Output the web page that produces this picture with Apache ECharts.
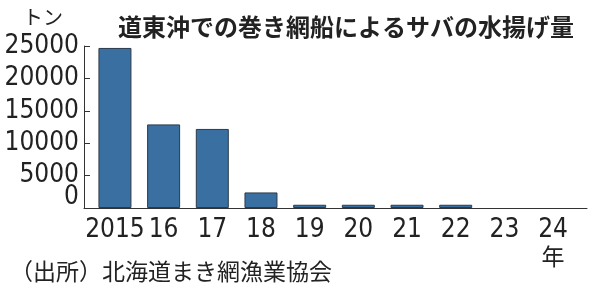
<!DOCTYPE html>
<html>
<head>
<meta charset="utf-8">
<script src="https://cdn.jsdelivr.net/npm/echarts@6/dist/echarts.min.js"></script>
<style>
html,body{margin:0;padding:0;background:#fff;}
#chart{width:610px;height:293px;}
</style>
</head>
<body>
<div id="chart"></div>
<script>
const years = ['2015', '16', '17', '18', '19', '20', '21', '22', '23', '24'];
const catchTons = [24700, 12900, 12200, 2400, 500, 500, 500, 500, 0, 0];
const yTicks = [0, 5000, 10000, 15000, 20000, 25000];
const titleText = '道東沖での巻き網船によるサバの水揚げ量';
const unitText = 'トン';
const sourceText = '（出所）北海道まき網漁業協会';
const yearSuffix = '年';

const numFont = '"Liberation Sans Narrow", "DejaVu Sans Condensed", "Liberation Sans", sans-serif';
const jpFont = '"Noto Sans CJK JP", "Noto Sans CJK SC", sans-serif';
const ink = '#222';
const numSize = 26;
const yMin = yTicks[0], yMax = yTicks[yTicks.length - 1];

const chart = echarts.init(document.getElementById('chart'), null, {renderer: 'canvas'});
chart.setOption({
  animation: false,
  backgroundColor: '#fff',
  title: [
    {text: titleText, left: 118, top: 15, padding: 0,
     textStyle: {fontFamily: jpFont, fontSize: 24, fontWeight: 'bold', color: ink, lineHeight: 24}},
    {text: unitText, left: 23, top: 7, padding: 0,
     textStyle: {fontFamily: jpFont, fontSize: 20, fontWeight: 'normal', color: ink, lineHeight: 20}},
    {text: sourceText, left: 10, top: 260, padding: 0,
     textStyle: {fontFamily: jpFont, fontSize: 23, fontWeight: 'normal', color: ink, lineHeight: 23}}
  ],
  grid: [
    {left: 84, right: 23, top: 46, bottom: 85},
    {left: 90.6, right: 32.6, top: 46, bottom: 85},
    {left: 84, right: 23, top: 35, bottom: 96}
  ],
  xAxis: [
    {type: 'value', gridIndex: 0, min: 0, max: 1,
     axisLine: {show: true, lineStyle: {color: '#333', width: 1}},
     axisTick: {show: false}, axisLabel: {show: false}, splitLine: {show: false}},
    {type: 'category', gridIndex: 1, data: years,
     axisLine: {show: false}, axisTick: {show: false}, splitLine: {show: false},
     axisLabel: {
       interval: 0, margin: 9,
       fontFamily: numFont, fontSize: numSize, color: ink, lineHeight: 26,
       formatter: function (v, i) { return i === years.length - 1 ? v + '\n{n|' + yearSuffix + '}' : v; },
       rich: {n: {fontFamily: jpFont, fontSize: 23, color: ink, lineHeight: 27}}
     }},
    {type: 'value', gridIndex: 2, min: 0, max: 1, show: false}
  ],
  yAxis: [
    {type: 'value', gridIndex: 0, min: yMin, max: yMax, interval: 5000,
     axisLine: {show: true, lineStyle: {color: '#333', width: 1}},
     axisTick: {show: true, inside: true, length: 6, lineStyle: {color: '#333'}},
     splitLine: {show: false},
     axisLabel: {
       margin: 5, fontFamily: numFont, fontSize: numSize, color: ink,
       showMaxLabel: true,
       formatter: function (v) { return v === yMin ? '' : String(v); }
     }},
    {type: 'value', gridIndex: 1, min: yMin, max: yMax, show: false},
    {type: 'value', gridIndex: 2, min: yMin, max: yMax, interval: 5000,
     axisLine: {show: false}, axisTick: {show: false}, splitLine: {show: false},
     axisLabel: {
       margin: 5, fontFamily: numFont, fontSize: numSize, color: ink,
       showMinLabel: true,
       formatter: function (v) { return v === yMin ? String(v) : ''; }
     }}
  ],
  series: [{
    type: 'bar', xAxisIndex: 1, yAxisIndex: 1,
    data: catchTons.map(function (v) { return v === 0 ? {value: v, itemStyle: {borderWidth: 0}} : v; }),
    barWidth: 33,
    itemStyle: {color: '#3a70a1', borderColor: '#2a3a4c', borderWidth: 1}
  }]
});
</script>
</body>
</html>
